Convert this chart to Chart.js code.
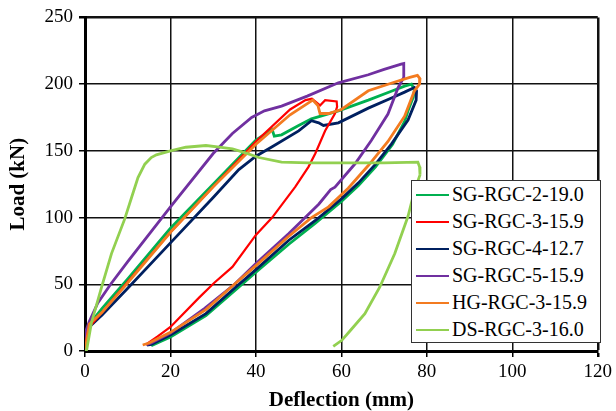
<!DOCTYPE html>
<html>
<head>
<meta charset="utf-8">
<script src="https://cdn.jsdelivr.net/npm/chart.js@4.4.1/dist/chart.umd.min.js"></script>
<style>
  body { margin: 0; background: #fff; }
  #wrap { position: relative; width: 616px; height: 411px; }
  #legend {
    position: absolute; left: 411px; top: 180px; width: 188px; height: 161px;
    border: 1px solid #333; background: #fff; color: #000;
    font: 20px "Liberation Serif", "Times New Roman", serif;
  }
  .row { height: 27px; display: flex; align-items: center; white-space: nowrap; }
  .swatch { width: 33px; height: 0; border-top: 2.5px solid; margin: 0 3px 0 4px; }
</style>
</head>
<body>
<div id="wrap">
  <canvas id="myChartLoad" width="616" height="411"></canvas>
  <div id="legend"></div>
</div>
<script>
// Load-deflection curves - data
const seriesLabels = ['SG-RGC-2-19.0', 'SG-RGC-3-15.9', 'SG-RGC-4-12.7', 'SG-RGC-5-15.9', 'HG-RGC-3-15.9', 'DS-RGC-3-16.0'];
const seriesColors = ['#00b050', '#ff0000', '#002060', '#7030a0', '#f37b20', '#92d050'];

const xTicks = [0, 20, 40, 60, 80, 100, 120];
const yTicks = [0, 50, 100, 150, 200, 250];

const sg2X = [0, 0.5, 1, 4, 10, 20, 30, 40, 43.8, 44.3, 46, 50, 53, 59.3, 66.3, 72, 74.8, 76.4, 77.1, 76.8, 75.6, 74.8, 72, 68, 64, 60, 54, 47.7, 40, 35.3, 28.3, 20, 15.5];
const sg2Y = [0, 14, 20, 32, 54, 92, 125, 158, 166, 161, 162, 169, 174, 180, 188, 195, 198.5, 200, 196, 190, 180, 172, 155, 138, 124, 112, 96, 80, 59, 46, 26.5, 10.5, 4];

const sg3X = [0, 0.5, 1, 4, 10, 20, 30, 40, 48, 51.6, 53.1, 55, 56.2, 58.9, 59, 58.5, 56.2, 53.9, 52.3, 49.2, 43.8, 40, 34.5, 30.2, 26.7, 20, 17, 14.3];
const sg3Y = [0, 12, 18, 29, 52, 89, 123, 157, 181, 188, 189, 184, 188, 187, 183, 178, 165, 148, 138, 123, 100, 87, 63, 51, 40, 18, 11, 5];

const sg4X = [0, 0.5, 1, 4, 10, 20, 30, 36, 40, 43.8, 50, 53, 54.7, 55.8, 59.3, 66.3, 72, 74.8, 77.1, 77.6, 77.5, 75.6, 71.7, 68, 64, 60, 54, 47.7, 40, 35.3, 28.3, 20, 15.5, 14.5];
const sg4Y = [0, 13, 18, 27, 47, 81, 115, 136, 146, 153, 165, 172.6, 171, 169, 171, 182, 190, 194, 197.5, 195, 188, 173, 155, 140, 126, 114, 98, 83, 61, 48, 28, 12, 5, 4.5];

const sg5X = [0, 0.2, 1, 3, 6, 10, 20, 30, 34.5, 39, 42, 46, 52, 59.3, 66.3, 70, 74, 74.6, 74.6, 73.3, 70.9, 67, 63.2, 58.5, 57.5, 54.7, 47.7, 40, 35, 28, 20, 15.5, 14.3];
const sg5Y = [0, 15, 22, 36, 50, 67, 108, 148, 163, 175, 180, 183.5, 191, 201, 207, 211, 215, 215.5, 205, 197.5, 177.6, 157.7, 140.3, 122.8, 121, 110, 88, 65.5, 50, 32, 13.4, 6, 4.7];

const hg3X = [0, 0.7, 1, 4, 10, 20, 30, 40, 48, 52.3, 53.3, 54.5, 55, 57, 60, 66.3, 72, 76, 77.8, 78.4, 78.3, 77.1, 74.8, 70.9, 66.3, 61.6, 57, 53, 47.7, 40, 35.3, 28.3, 20, 15, 13.5];
const hg3Y = [0, 14, 20, 29, 51, 89, 123, 155, 177, 186, 188, 184, 178, 178, 181, 195, 201, 205, 206.5, 204, 200, 195, 176, 157, 139, 122, 108, 100, 86, 64, 51, 31, 14, 6, 4.5];

const ds3X = [0, 0.4, 1.5, 3.9, 6.2, 9.3, 10.9, 12.4, 14, 15.5, 16.7, 20, 23.6, 28.3, 31, 34.5, 37, 40.7, 46, 52.3, 60, 70, 77.9, 78.3, 78.4, 77.1, 75.6, 72.5, 69, 65.5, 62, 60.1, 58.1];
const ds3Y = [0, 1, 21, 48, 73, 99, 115, 130, 140, 145, 147, 150, 152.7, 154, 153, 151.5, 149, 145, 141.5, 141, 141, 141, 141.5, 138, 132, 120, 101, 73, 48, 28, 15, 8, 3.5];

const seriesX = [sg2X, sg3X, sg4X, sg5X, hg3X, ds3X];
const seriesY = [sg2Y, sg3Y, sg4Y, sg5Y, hg3Y, ds3Y];
const drawOrder = [5, 2, 4, 3, 1, 0];

const serif = '"Liberation Serif", "Times New Roman", serif';

const datasets = seriesLabels.map((label, i) => ({
    label: label,
    data: seriesX[i].map((x, j) => ({ x: x, y: seriesY[i][j] })),
    borderColor: seriesColors[i],
    backgroundColor: seriesColors[i],
    borderWidth: i === 1 ? 2.2 : 2.8,
    showLine: true,
    pointRadius: 0,
    tension: 0,
    order: drawOrder[i]
}));

const loadConfig = {
    type: 'scatter',
    data: { datasets: datasets },
    options: {
        responsive: false,
        animation: false,
        layout: { padding: { left: 4, right: 14, top: 17, bottom: 0 } },
        plugins: {
            legend: { display: false },
            tooltip: { enabled: false }
        },
        scales: {
            x: {
                type: 'linear',
                min: 0,
                max: 120,
                afterBuildTicks: s => { s.ticks = xTicks.map(v => ({ value: v })); },
                afterFit: s => { s.height = 60; },
                ticks: { color: '#000', padding: 4, font: { family: serif, size: 19 } },
                grid: {
                    color: '#111',
                    lineWidth: c => (c.tick && c.tick.value === 120 ? 2.5 : 1.5),
                    tickLength: 6,
                    tickColor: '#000'
                },
                border: { color: '#000', width: 3 },
                title: {
                    display: true,
                    text: 'Deflection (mm)',
                    color: '#000',
                    padding: { top: 0, bottom: 0 },
                    font: { family: serif, size: 21, weight: 'bold', lineHeight: 1 }
                }
            },
            y: {
                min: 0,
                max: 250,
                afterBuildTicks: s => { s.ticks = yTicks.map(v => ({ value: v })); },
                afterFit: s => { s.width = 81; },
                ticks: { color: '#000', padding: 6, font: { family: serif, size: 19 } },
                grid: {
                    color: '#111',
                    lineWidth: c => (c.tick && c.tick.value === 250 ? 2.5 : 1.5),
                    tickLength: 6,
                    tickColor: '#000'
                },
                border: { color: '#000', width: 3 },
                title: {
                    display: true,
                    text: 'Load (kN)',
                    color: '#000',
                    padding: { top: 4, bottom: 0 },
                    font: { family: serif, size: 21, weight: 'bold', lineHeight: 1 }
                }
            }
        }
    }
};

new Chart('myChartLoad', loadConfig);

// legend box inside the plot
const legendBox = document.getElementById('legend');
seriesLabels.forEach((label, i) => {
    const row = document.createElement('div');
    row.className = 'row';
    const sw = document.createElement('span');
    sw.className = 'swatch';
    sw.style.borderTopColor = seriesColors[i];
    const txt = document.createElement('span');
    txt.textContent = label;
    row.appendChild(sw);
    row.appendChild(txt);
    legendBox.appendChild(row);
});
</script>
</body>
</html>
